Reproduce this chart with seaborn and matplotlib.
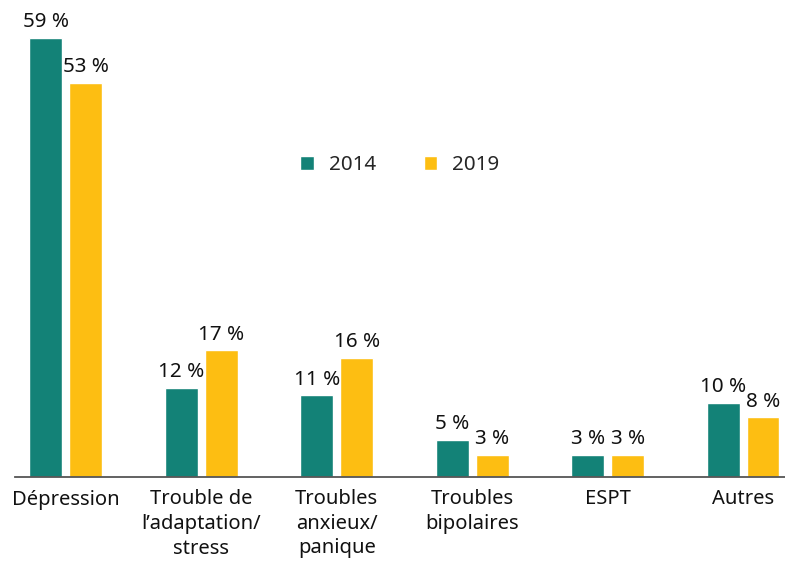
import seaborn as sns
import pandas as pd
import matplotlib.pyplot as plt

sns.set_style("white")
plt.rcParams['font.family'] = ['Noto Sans', 'DejaVu Sans']

categories = ['Dépression', 'Trouble de\nl\u2019adaptation/\nstress', 'Troubles\nanxieux/\npanique',
              'Troubles\nbipolaires', 'ESPT', 'Autres']
v2014 = [59, 12, 11, 5, 3, 10]
v2019 = [53, 17, 16, 3, 3, 8]
years = ['2014', '2019']
colors = ['#138277', '#FDBE12']

df = pd.DataFrame({
    'cat': categories * 2,
    'val': v2014 + v2019,
    'year': [years[0]] * len(categories) + [years[1]] * len(categories),
})

fig = plt.figure(figsize=(7.85, 5.63), dpi=100)
ax = fig.add_axes([15 / 785, 86 / 563, 770 / 785, 477 / 563])

sns.barplot(data=df, x='cat', y='val', hue='year', palette=colors, width=0.59, gap=0.175,
            saturation=1, ax=ax, legend=True)

for c in ax.containers:
    ax.bar_label(c, labels=[f"{v:.0f} %" for v in c.datavalues], padding=4, fontsize=14.8, color='#111111')

ax.set_xlim(-0.376, 5.31)
ax.set_ylim(0, 64.1)
ax.set_xlabel('')
ax.set_ylabel('')
ax.set_yticks([])
ax.tick_params(axis='x', length=0, pad=9, labelsize=14.5, labelcolor='#111111')
for lab in ax.get_xticklabels():
    lab.set_verticalalignment('top')
    lab.set_linespacing(1.3)
sns.despine(ax=ax, left=True, right=True, top=True)
ax.spines['bottom'].set_color('#555555')
ax.spines['bottom'].set_linewidth(1.3)

ax.legend(loc='center', bbox_to_anchor=(0.5, 0.654), ncol=2, frameon=False, fontsize=14.8,
          handlelength=0.65, handleheight=0.65, columnspacing=2.3, handletextpad=0.75)

plt.savefig('out.png', dpi=100)
